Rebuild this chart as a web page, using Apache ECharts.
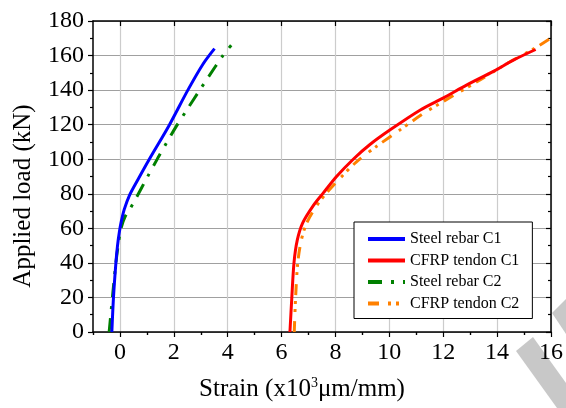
<!DOCTYPE html>
<html>
<head>
<meta charset="utf-8">
<script src="https://cdn.jsdelivr.net/npm/echarts@6/dist/echarts.min.js"></script>
<style>html,body{margin:0;padding:0;background:#fff}#c{width:566px;height:408px}</style>
</head>
<body>
<div id="c"></div>
<script>
// Series data (strain x10^3 µm/mm, load kN)
const steelC1X = [-0.30, -0.24, -0.15, -0.09, -0.02, 0.05, 0.16, 0.35, 0.66, 1.09, 1.84, 2.52, 3.08, 3.51];
const steelC1Y = [0, 20, 40, 50, 58, 64, 71, 79, 88, 100, 120, 140, 155, 164];
const cfrpC1X = [6.31, 6.38, 6.46, 6.58, 6.78, 7.17, 7.55, 8.04, 8.66, 9.28, 10.03, 11.15, 12.01, 12.88, 13.88, 14.62, 15.43];
const cfrpC1Y = [0, 20, 40, 53, 63, 73, 80.5, 90, 100, 108.5, 117, 128.5, 135.5, 143, 151, 157.5, 163.5];
const steelC2X = [-0.40, -0.28, -0.15, -0.05, 0.04, 0.20, 0.40, 0.60, 1.03, 1.40, 1.71, 2.09, 2.46, 2.96, 3.26, 3.82, 4.13];
const steelC2Y = [0, 20, 40, 52, 60, 67, 72, 77.5, 90, 100.5, 109, 119, 128, 140, 147, 160, 166];
const cfrpC2X = [6.47, 6.52, 6.60, 6.73, 6.93, 7.30, 7.67, 8.17, 8.78, 9.53, 10.40, 11.27, 12.39, 13.38, 14.38, 15.37, 15.93];
const cfrpC2Y = [0, 20, 40, 53, 63, 73, 80.5, 89, 98.5, 107.5, 117, 126.5, 137, 146, 155.5, 164, 169.5];

const seriesNames = ['Steel rebar C1', 'CFRP tendon C1', 'Steel rebar C2', 'CFRP tendon C2'];
const xMajorTicks = [0, 2, 4, 6, 8, 10, 12, 14, 16];
const xMinorTicks = [-1, 1, 3, 5, 7, 9, 11, 13, 15];
const xMin = -1, xMax = 16;
const yMin = 0, yMax = 180, yStep = 20;

function pairs(xs, ys) { return xs.map((x, i) => [x, ys[i]]); }

const FONT = "'Liberation Serif', 'Times New Roman', serif";
const chart = echarts.init(document.getElementById('c'), null, {renderer: 'canvas'});

const baseX = {
  type: 'value', min: xMin, max: xMax, interval: 1, gridIndex: 0,
  axisLine: {show: false}, axisLabel: {show: false}, splitLine: {show: false}, axisTick: {show: false}
};

chart.setOption({
  animation: false,
  backgroundColor: '#fff',
  textStyle: {fontFamily: FONT},
  grid: {left: 93, right: 15, top: 21, bottom: 76, containLabel: false},
  graphic: [
    {type: 'polygon', z: -5, shape: {points: [[516, 351], [533, 337], [566, 383], [566, 408], [557, 408]]}, style: {fill: '#c8c8c8'}},
    {type: 'polygon', z: -5, shape: {points: [[552, 313], [566, 299], [566, 334]]}, style: {fill: '#c8c8c8'}}
  ],
  xAxis: [
    Object.assign({}, baseX, {
      position: 'bottom',
      axisLine: {show: true, onZero: false, lineStyle: {color: '#000', width: 1.5}},
      axisTick: {show: true, customValues: xMajorTicks, length: 5, lineStyle: {color: '#000', width: 1.2}},
      axisLabel: {show: true, customValues: xMajorTicks, color: '#000', fontFamily: FONT, fontSize: 24, margin: 9},
      splitLine: {show: true, lineStyle: {color: '#cccccc', width: 1.2}},
      name: '{a|Strain (x10}{s|3}{a|μm/mm)}',
      nameLocation: 'middle', nameGap: 44,
      nameTextStyle: {
        padding: [0, 40, 0, 0],
        rich: {
          a: {fontFamily: FONT, fontSize: 25, color: '#000'},
          s: {fontFamily: FONT, fontSize: 14, color: '#000', verticalAlign: 'top', padding: [0, 0, 12, 0]}
        }
      }
    }),
    Object.assign({}, baseX, {
      position: 'bottom',
      axisTick: {show: true, customValues: xMinorTicks, length: 3, lineStyle: {color: '#000', width: 1.2}}
    }),
    Object.assign({}, baseX, {
      position: 'top',
      axisLine: {show: true, onZero: false, lineStyle: {color: '#000', width: 1.5}},
      axisTick: {show: true, inside: true, customValues: xMajorTicks, length: 5, lineStyle: {color: '#000', width: 1.2}}
    }),
    Object.assign({}, baseX, {
      position: 'top',
      axisTick: {show: true, inside: true, customValues: xMinorTicks, length: 3, lineStyle: {color: '#000', width: 1.2}}
    })
  ],
  yAxis: [
    {
      type: 'value', min: yMin, max: yMax, interval: yStep, position: 'left',
      axisLine: {show: true, onZero: false, lineStyle: {color: '#000', width: 1.5}},
      axisTick: {show: true, length: 5, lineStyle: {color: '#000', width: 1.2}},
      minorTick: {show: true, splitNumber: 2, length: 3, lineStyle: {color: '#000', width: 1.2}},
      axisLabel: {color: '#000', fontFamily: FONT, fontSize: 24, margin: 9},
      splitLine: {show: true, lineStyle: {color: '#a0a0a0', width: 1.2}},
      name: 'Applied load (kN)', nameLocation: 'middle', nameGap: 57,
      nameTextStyle: {fontFamily: FONT, fontSize: 25, color: '#000', padding: [0, 39, 0, 0]}
    },
    {
      type: 'value', min: yMin, max: yMax, interval: yStep, position: 'right',
      axisLine: {show: true, onZero: false, lineStyle: {color: '#000', width: 1.5}},
      axisTick: {show: true, inside: true, length: 5, lineStyle: {color: '#000', width: 1.2}},
      minorTick: {show: true, splitNumber: 2, length: 3, lineStyle: {color: '#000', width: 1.2}},
      axisLabel: {show: false},
      splitLine: {show: false}
    }
  ],
  legend: {
    orient: 'vertical', left: 354, top: 222,
    backgroundColor: '#fff', borderColor: '#000', borderWidth: 1,
    padding: [9, 13, 7, 12], itemGap: 5.5, itemWidth: 37, itemHeight: 14,
    itemStyle: {opacity: 0},
    lineStyle: {width: 4},
    textStyle: {fontFamily: FONT, fontSize: 16, color: '#000', lineHeight: 16},
    data: seriesNames
  },
  series: [
    {name: seriesNames[0], type: 'line', data: pairs(steelC1X, steelC1Y), symbol: 'none', smooth: 0.3,
     lineStyle: {color: '#0000ff', width: 3}, itemStyle: {color: '#0000ff'}, z: 3},
    {name: seriesNames[1], type: 'line', data: pairs(cfrpC1X, cfrpC1Y), symbol: 'none', smooth: 0.3,
     lineStyle: {color: '#ff0000', width: 3}, itemStyle: {color: '#ff0000'}, z: 3},
    {name: seriesNames[2], type: 'line', data: pairs(steelC2X, steelC2Y), symbol: 'none', smooth: 0.3,
     lineStyle: {color: '#008000', width: 3, type: [14, 9, 3, 9]}, itemStyle: {color: '#008000'}, z: 2},
    {name: seriesNames[3], type: 'line', data: pairs(cfrpC2X, cfrpC2Y), symbol: 'none', smooth: 0.3,
     lineStyle: {color: '#ff8000', width: 3, type: [11, 9, 3, 5, 3, 6]}, itemStyle: {color: '#ff8000'}, z: 2}
  ]
});
</script>
</body>
</html>
